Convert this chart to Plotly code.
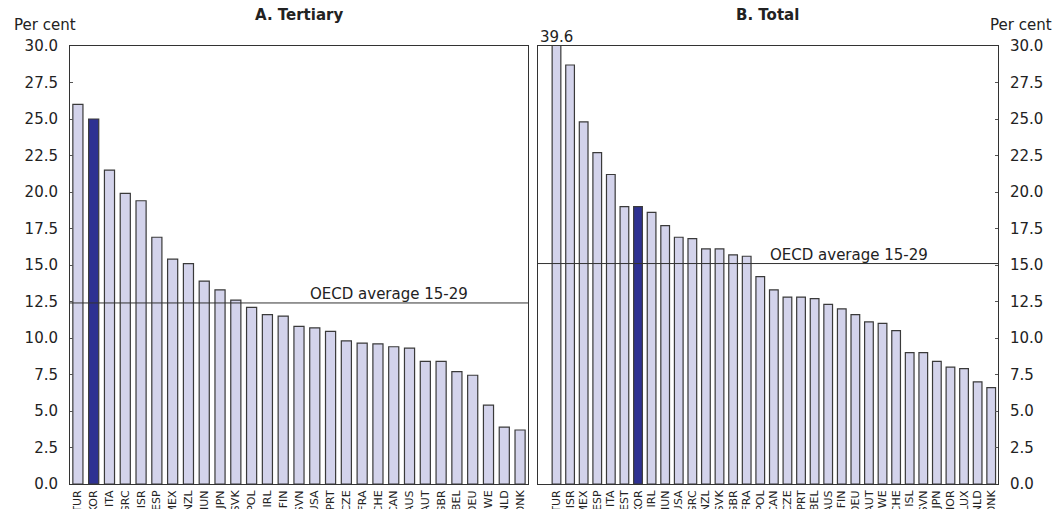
import plotly.graph_objects as go
from plotly.subplots import make_subplots

# Panel A: Tertiary
cats_a = ["TUR", "KOR", "ITA", "GRC", "ISR", "ESP", "MEX", "NZL", "HUN", "JPN", "SVK", "POL",
          "IRL", "FIN", "SVN", "USA", "PRT", "CZE", "FRA", "CHE", "CAN", "AUS", "AUT", "GBR",
          "BEL", "DEU", "SWE", "NLD", "DNK"]
vals_a = [26.0, 25.0, 21.5, 19.9, 19.4, 16.9, 15.4, 15.1, 13.9, 13.3, 12.6, 12.1,
          11.6, 11.5, 10.8, 10.7, 10.45, 9.8, 9.65, 9.6, 9.4, 9.3, 8.4, 8.4,
          7.7, 7.45, 5.4, 3.9, 3.7]
oecd_a = 12.4

# Panel B: Total
cats_b = ["TUR", "ISR", "MEX", "ESP", "ITA", "EST", "KOR", "IRL", "HUN", "USA", "GRC", "NZL",
          "SVK", "GBR", "FRA", "POL", "CAN", "CZE", "PRT", "BEL", "AUS", "FIN", "DEU", "AUT",
          "SWE", "CHE", "ISL", "SVN", "JPN", "NOR", "LUX", "NLD", "DNK"]
vals_b = [39.6, 28.7, 24.8, 22.7, 21.2, 19.0, 19.0, 18.6, 17.7, 16.9, 16.8, 16.1,
          16.1, 15.7, 15.6, 14.2, 13.3, 12.8, 12.8, 12.7, 12.3, 12.0, 11.6, 11.1,
          11.0, 10.5, 9.0, 9.0, 8.4, 8.0, 7.9, 7.0, 6.6]
oecd_b = 15.1

highlight = "KOR"
y_ticks = [0, 2.5, 5, 7.5, 10, 12.5, 15, 17.5, 20, 22.5, 25, 27.5, 30]

LIGHT = "#D3D3EB"
DARK = "#2E3192"
EDGE = "#3a3a3a"
FONT = "DejaVu Sans"

fig = make_subplots(rows=1, cols=2, horizontal_spacing=0.0108)

for col, cats, vals in [(1, cats_a, vals_a), (2, cats_b, vals_b)]:
    colors = [DARK if c == highlight else LIGHT for c in cats]
    fig.add_trace(go.Bar(x=cats, y=vals, marker=dict(color=colors, line=dict(color=EDGE, width=1.2)),
                         showlegend=False, cliponaxis=True), row=1, col=col)

fig.update_layout(
    width=1058, height=509,
    margin=dict(l=70, r=60, t=46, b=25),
    paper_bgcolor="white", plot_bgcolor="white",
    bargap=0.36,
    font=dict(family=FONT, color="#222222", size=14),
)

fig.update_xaxes(showline=True, linecolor="#333333", linewidth=1, mirror=True,
                 tickangle=-90, tickfont=dict(size=11, family=FONT), showgrid=False,
                 ticks="", automargin=False, ticklabelstandoff=1)
fig.update_xaxes(domain=[0, 0.4935], row=1, col=1)
fig.update_xaxes(domain=[0.5043, 1.0], row=1, col=2)

common_y = dict(range=[0, 30], tickvals=y_ticks, tickformat=".1f", showgrid=False,
                showline=True, linecolor="#333333", linewidth=1, mirror=True,
                ticks="inside", ticklen=3, tickcolor="#555555",
                tickfont=dict(size=15, family=FONT), automargin=False, zeroline=False,
                ticklabelstandoff=8)
fig.update_yaxes(**common_y, side="left", row=1, col=1)
fig.update_yaxes(**common_y, side="right", row=1, col=2)

# OECD average lines
for xr, yv in [("x", oecd_a), ("x2", oecd_b)]:
    fig.add_shape(type="line", xref=f"{xr} domain", x0=0, x1=1,
                  yref="y" if xr == "x" else "y2", y0=yv, y1=yv,
                  line=dict(color="#333333", width=1))

fig.add_annotation(xref="x domain", yref="y", x=0.52, y=oecd_a, text="OECD average 15-29",
                   showarrow=False, xanchor="left", yanchor="bottom", yshift=-2,
                   font=dict(size=15, family=FONT, color="#222222"))
fig.add_annotation(xref="x2 domain", yref="y2", x=0.50, y=oecd_b, text="OECD average 15-29",
                   showarrow=False, xanchor="left", yanchor="bottom", yshift=-2,
                   font=dict(size=15, family=FONT, color="#222222"))

# Clipped value label
fig.add_annotation(xref="x2", yref="y2", x=cats_b[0], y=30, text=f"{vals_b[0]:.1f}",
                   showarrow=False, yanchor="bottom", yshift=-2,
                   font=dict(size=15, family=FONT, color="#222222"))

# Titles
fig.add_annotation(xref="x domain", yref="paper", x=0.5, y=1.0, yshift=20, text="<b>A. Tertiary</b>",
                   showarrow=False, yanchor="bottom", font=dict(size=15, family=FONT, color="#222222"))
fig.add_annotation(xref="x2 domain", yref="paper", x=0.5, y=1.0, yshift=20, text="<b>B. Total</b>",
                   showarrow=False, yanchor="bottom", font=dict(size=15, family=FONT, color="#222222"))

# Units
fig.add_annotation(xref="paper", yref="paper", x=-0.0625, y=1.0, yshift=10, text="Per cent",
                   showarrow=False, xanchor="left", yanchor="bottom",
                   font=dict(size=15, family=FONT, color="#222222"))
fig.add_annotation(xref="paper", yref="paper", x=1.0, xshift=-10, y=1.0, yshift=10, text="Per cent",
                   showarrow=False, xanchor="left", yanchor="bottom",
                   font=dict(size=15, family=FONT, color="#222222"))

fig.write_html("out.html", config={"displayModeBar": False},
               post_script="document.body.style.margin='0';document.body.style.overflow='hidden';")
